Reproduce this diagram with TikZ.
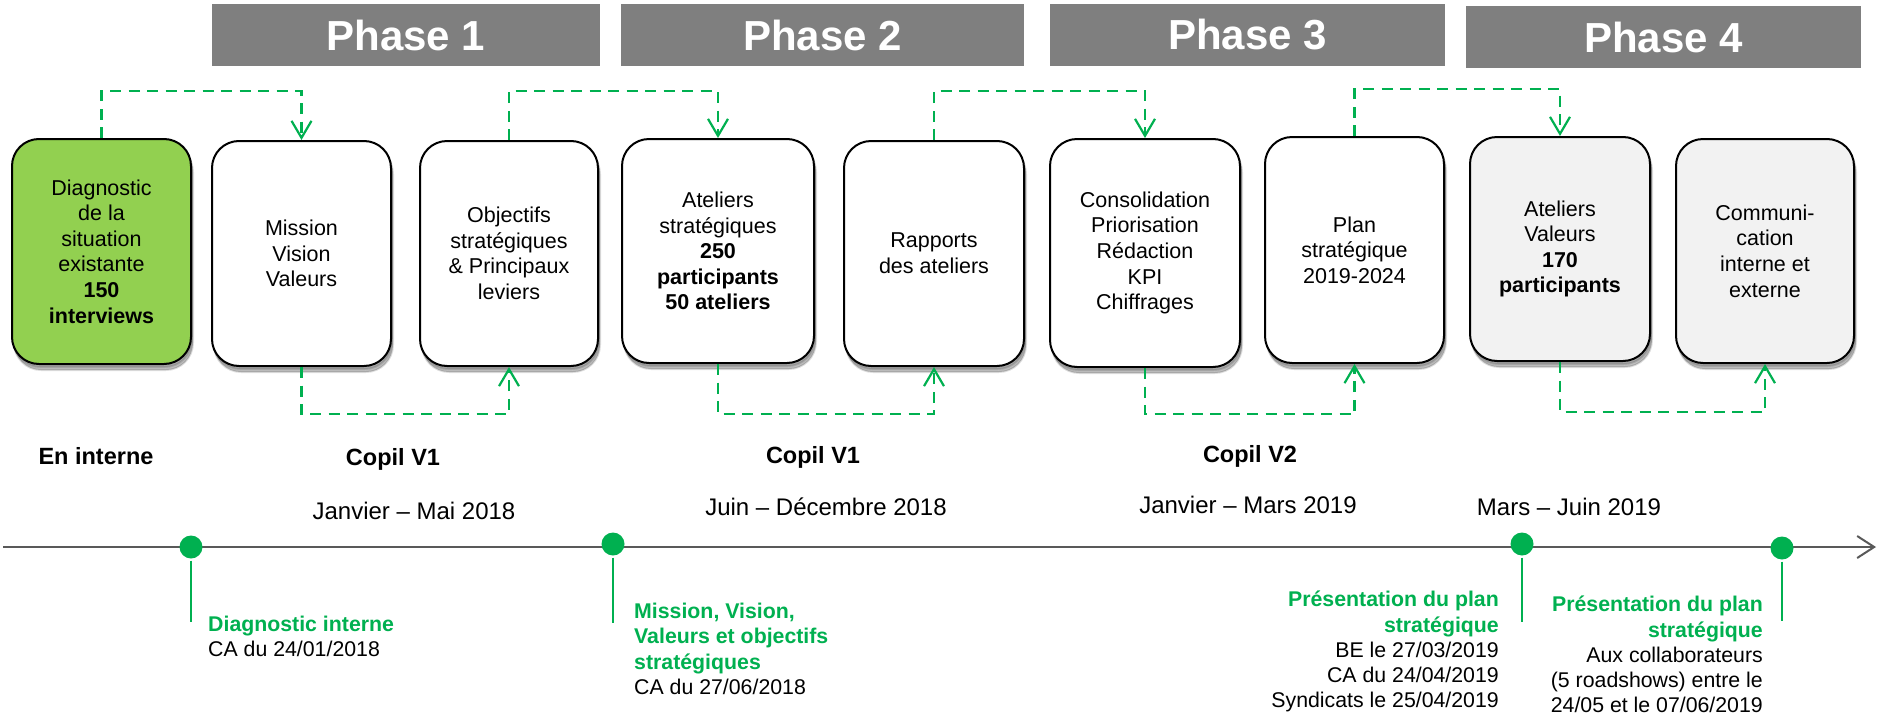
\documentclass[tikz,border=0pt]{standalone}
\usepackage{fontspec}
\setmainfont{Liberation Sans}
\usetikzlibrary{arrows.meta,shadows}
\definecolor{grn}{HTML}{00B050}
\definecolor{lgrn}{HTML}{92D050}
\definecolor{phgray}{HTML}{7F7F7F}
\definecolor{boxgray}{HTML}{F2F2F2}
\definecolor{axgray}{HTML}{595959}
\newcommand\grlbl[1]{\textcolor{grn}{\textbf{#1}}}
\begin{document}
\begin{tikzpicture}[x=1pt,y=-1pt,
  phasebox/.style={fill=phgray, text=white, font=\fontsize{42}{50}\selectfont\bfseries, inner sep=0pt, minimum height=62pt},
  stepbox/.style={draw=black, line width=2pt, rounded corners=27pt, fill=white, align=center,
     font=\fontsize{21.5}{25.6}\selectfont, inner sep=0pt,
     double copy shadow={shadow xshift=1pt, shadow yshift=-3pt, opacity=0.12, fill=black},
     drop shadow={shadow xshift=2pt, shadow yshift=-6pt, opacity=0.15, fill=black}},
  conn/.style={draw=grn, line width=2.7pt, dash pattern=on 11pt off 7.5pt,
     -{Straight Barb[length=17pt,width=20pt,line width=2.2pt]}},
  axisline/.style={draw=axgray, line width=2pt, -{Straight Barb[length=17pt,width=22pt,line width=2pt]}},
  dot/.style={circle, fill=grn, minimum size=23pt, inner sep=0pt},
  tick/.style={draw=grn, line width=2pt},
  lbl/.style={inner sep=0pt, font=\fontsize{21.3}{25.2}\selectfont},
  copil/.style={inner sep=0pt, font=\fontsize{23.5}{28}\selectfont\bfseries},
  period/.style={inner sep=0pt, font=\fontsize{24}{28}\selectfont}
]
\useasboundingbox (0,0) rectangle (1877,715);

% phases
\node[phasebox, minimum width=388pt] (p1) at (406,35) {Phase 1};
\node[phasebox, minimum width=403pt] (p2) at (822.5,35) {Phase 2};
\node[phasebox, minimum width=395pt] (p3) at (1247.5,35) {Phase 3};
\node[phasebox, minimum width=395pt] (p4) at (1663.5,37) {Phase 4};

% step boxes
\node[stepbox, fill=lgrn, minimum width=179pt, minimum height=225pt] (b1) at (101.5,251.5)
  {Diagnostic\\de la\\situation\\existante\\\textbf{150}\\\textbf{interviews}};
\node[stepbox, minimum width=179pt, minimum height=225pt] (b2) at (301.5,253.5)
  {Mission\\Vision\\Valeurs};
\node[stepbox, minimum width=178pt, minimum height=225pt] (b3) at (509,253.5)
  {Objectifs\\stratégiques\\\& Principaux\\leviers};
\node[stepbox, minimum width=192pt, minimum height=224pt] (b4) at (718,251)
  {Ateliers\\stratégiques\\\textbf{250}\\\textbf{participants}\\\textbf{50 ateliers}};
\node[stepbox, minimum width=180pt, minimum height=225pt] (b5) at (934,253.5)
  {Rapports\\des ateliers};
\node[stepbox, minimum width=190pt, minimum height=228pt] (b6) at (1145,253)
  {Consolidation\\Priorisation\\Rédaction\\KPI\\Chiffrages};
\node[stepbox, minimum width=179pt, minimum height=226pt] (b7) at (1354.5,250)
  {Plan\\stratégique\\2019-2024};
\node[stepbox, fill=boxgray, minimum width=180pt, minimum height=224pt] (b8) at (1560,249)
  {Ateliers\\Valeurs\\\textbf{170}\\\textbf{participants}};
\node[stepbox, fill=boxgray, minimum width=178pt, minimum height=224pt] (b9) at (1765,251)
  {Communi-\\cation\\interne et\\externe};

% connectors
\coordinate (ta) at (0,91);
\coordinate (tb) at (0,89);
\coordinate (ba) at (0,414);
\coordinate (bb) at (0,412);
\draw[conn] (b1.north) -- (b1.north |- ta) -| (b2.north);
\draw[conn] (b3.north) -- (b3.north |- ta) -| (b4.north);
\draw[conn] (b5.north) -- (b5.north |- ta) -| (b6.north);
\draw[conn] (b7.north) -- (b7.north |- tb) -| (b8.north);
\draw[conn] (b2.south) -- (b2.south |- ba) -| (b3.south);
\draw[conn] (b4.south) -- (b4.south |- ba) -| (b5.south);
\draw[conn] (b6.south) -- (b6.south |- ba) -| (b7.south);
\draw[conn] (b8.south) -- (b8.south |- bb) -| (b9.south);

% middle labels
\node[copil] (t1) at (96,456) {En interne};
\node[copil] (t2) at (393,459) {Copil V1};
\node[copil] (t3) at (813,457) {Copil V1};
\node[copil] (t4) at (1250,456) {Copil V2};
\node[period] (q1) at (414,511) {Janvier -- Mai 2018};
\node[period] (q2) at (826,507) {Juin -- Décembre 2018};
\node[period] (q3) at (1248,505) {Janvier -- Mars 2019};
\node[period] (q4) at (1569,507) {Mars -- Juin 2019};

% timeline
\coordinate (ax0) at (3,547);
\coordinate (ax1) at (1876,547);
\draw[axisline] (ax0) -- (ax1);
\node[dot] (d1) at (191,547) {};
\node[dot] (d2) at (613,544) {};
\node[dot] (d3) at (1522,544) {};
\node[dot] (d4) at (1782,548) {};
\coordinate (e1) at (191,622);
\coordinate (e2) at (613,623);
\coordinate (e3) at (1522,622);
\coordinate (e4) at (1782,621);
\draw[tick, shorten <=2pt] (d1.south) -- (e1);
\draw[tick, shorten <=2pt] (d2.south) -- (e2);
\draw[tick, shorten <=2pt] (d3.south) -- (e3);
\draw[tick, shorten <=2pt] (d4.south) -- (e4);

% milestone labels
\node[lbl, anchor=north west, align=left] (m1) at (208,616)
  {\grlbl{Diagnostic interne}\\CA du 24/01/2018};
\node[lbl, anchor=north west, align=left] (m2) at (634,603)
  {\grlbl{Mission, Vision,}\\\grlbl{Valeurs et objectifs}\\\grlbl{stratégiques}\\CA du 27/06/2018};
\node[lbl, anchor=north east, align=right] (m3) at (1499,591)
  {\grlbl{Présentation du plan}\\\grlbl{stratégique}\\BE le 27/03/2019\\CA du 24/04/2019\\Syndicats le 25/04/2019};
\node[lbl, anchor=north east, align=right] (m4) at (1763,596)
  {\grlbl{Présentation du plan}\\\grlbl{stratégique}\\Aux collaborateurs\\(5 roadshows) entre le\\24/05 et le 07/06/2019};
\end{tikzpicture}
\end{document}
